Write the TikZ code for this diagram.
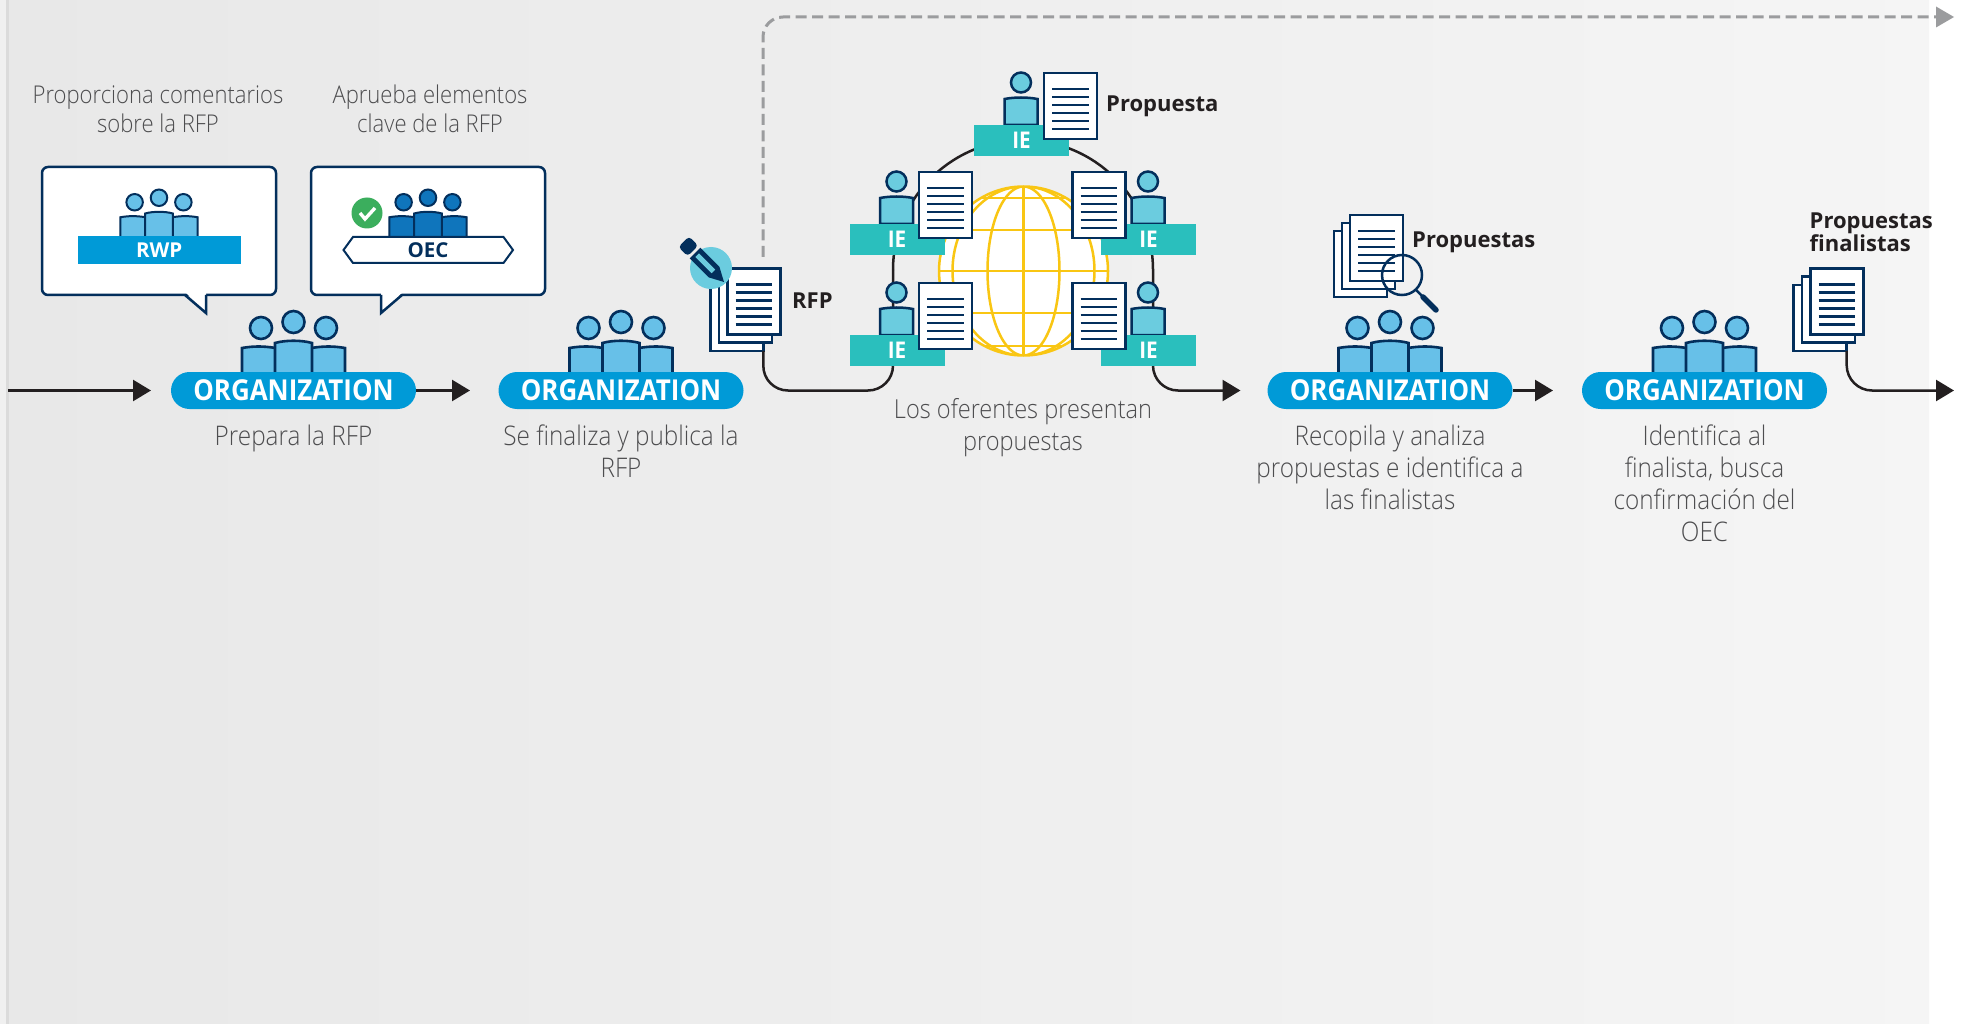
\documentclass[tikz,border=0pt]{standalone}
\usepackage{fontspec}
\usetikzlibrary{arrows.meta,shapes.misc,calc}
\setmainfont{Noto Sans}
\IfFontExistsTF{Open Sans Light}{\newfontfamily\lightf[FakeStretch=0.9]{Open Sans Light}}{%
\IfFontExistsTF{Fira Sans Light}{\newfontfamily\lightf[FakeStretch=0.96]{Fira Sans Light}}{%
\IfFontExistsTF{Lato Light}{\newfontfamily\lightf{Lato Light}}{\newfontfamily\lightf[FakeStretch=0.9]{Noto Sans}}}}
\IfFontExistsTF{Open Sans Bold}{\newfontfamily\bfx[FakeStretch=0.9]{Open Sans Bold}\newfontfamily\bfw{Open Sans Bold}}{%
\IfFontExistsTF{Fira Sans Bold}{\newfontfamily\bfx{Fira Sans Bold}\newfontfamily\bfw{Fira Sans Bold}}{%
\IfFontExistsTF{Lato Bold}{\newfontfamily\bfx{Lato Bold}\newfontfamily\bfw{Lato Bold}}{\newfontfamily\bfx[FakeStretch=0.92,FakeBold=1.6]{Noto Sans}\newfontfamily\bfw[FakeBold=1.6]{Noto Sans}}}}
\definecolor{navy}{HTML}{032F5C}
\definecolor{bluep}{HTML}{009AD7}
\definecolor{lightb}{HTML}{67C0E8}
\definecolor{darkb}{HTML}{0F75BC}
\definecolor{cyanb}{HTML}{6BCCDF}
\definecolor{teal}{HTML}{2ABFBD}
\definecolor{inkd}{HTML}{231F20}
\definecolor{greytxt}{HTML}{4D4D4F}
\definecolor{dashg}{HTML}{9B9C9E}
\definecolor{globey}{HTML}{F9C613}
\definecolor{checkg}{HTML}{3BAE5D}
\tikzset{
  arr/.style={draw=inkd,line width=2.5pt,-{Triangle[length=18pt,width=21pt,fill=inkd]}},
  dasharr/.style={draw=dashg,line width=3pt,dash pattern=on 11pt off 5.5pt,rounded corners=20pt},
  pillbox/.style={rounded rectangle,fill=bluep,text=white,minimum width=245pt,minimum height=37pt,inner sep=0pt,font=\bfx\fontsize{28.8}{30}\selectfont},
  descr/.style={text=greytxt,align=center,inner sep=0pt,font=\lightf\fontsize{27}{32}\selectfont},
  descrtop/.style={text=greytxt,align=center,inner sep=0pt,font=\lightf\fontsize{24.5}{29}\selectfont},
  lab/.style={text=inkd,align=left,inner sep=0pt,font=\bfw\fontsize{22}{23.5}\selectfont},
  bubblebox/.style={draw=navy,fill=white,line width=2.5pt,rounded corners=6pt,minimum width=234pt,minimum height=128pt,inner sep=0pt},
  page/.style={draw=navy,fill=white,line width=2.5pt,minimum width=53pt,minimum height=66pt,inner sep=0pt,outer sep=0pt,anchor=north west},
  iebar/.style={fill=teal,text=white,minimum width=95pt,minimum height=31pt,inner sep=0pt,font=\bfx\fontsize{23}{24}\selectfont},
}
\newcommand{\crowd}[5]{%
 \begin{scope}[shift={(#1,#2)},scale=#3,draw=navy,fill=#4,line width=#5]
  \filldraw (-51.5,0) -- (-51.5,-25) .. controls (-40,-27) and (-30,-27) .. (-18,-25) -- (-18,0);
  \filldraw (51.5,0) -- (51.5,-25) .. controls (40,-27) and (30,-27) .. (18,-25) -- (18,0);
  \filldraw (-18.5,0) -- (-18.5,-30) .. controls (-8,-33) and (8,-33) .. (18.5,-30) -- (18.5,0);
  \filldraw (-32.5,-45) circle[radius=11];
  \filldraw (32.5,-45) circle[radius=11];
  \filldraw (0,-51) circle[radius=11];
 \end{scope}}
\newcommand{\pagelines}[2]{%
 \foreach \k in {0,...,5}{\draw[navy,line width=2.4pt] (#1+8,#2+16+8*\k) -- (#1+44.5,#2+16+8*\k);}}
\newcommand{\stack}[3]{%
 \node[page] (#3b) at (#1-16.5,#2+17) {};
 \node[page] (#3m) at (#1-8,#2+8.5) {};
 \node[page] (#3f) at (#1+0.5,#2+0.5) {};
 \pagelines{#1+0.5}{#2+0.5}}
\newcommand{\bidder}[4]{% name, head x, bar top y, doc x
 \draw[navy,line width=2.5pt,fill=cyanb] (#2-16.5,#3) -- (#2-16.5,#3-26) .. controls (#2-6,#3-28) and (#2+6,#3-28) .. (#2+16.5,#3-26) -- (#2+16.5,#3) -- cycle;
 \filldraw[draw=navy,fill=cyanb,line width=2.5pt] (#2,#3-42.5) circle[radius=10];
 \node[iebar] (#1) at (#2+0.5,#3+15.5) {IE};
 \node[page] (#1d) at (#4,#3-52) {};
 \pagelines{#4}{#3-52}}
\begin{document}
\begin{tikzpicture}[x=1pt,y=-1pt]
\useasboundingbox (0,0) rectangle (1965,1024);
\fill[white] (0,0) rectangle (1965,1024);
\fill[black!6] (0,0) rectangle (6,1024);
\fill[black!14] (6,0) rectangle (9,1024);
\shade[left color=black!9,right color=black!4] (9,0) rectangle (1929,1024);

% dashed branch
\coordinate (dstart) at (763,257);
\coordinate (dend) at (1954,17);
\draw[dasharr] (dstart) -- (763,17) -- (1936,17);
\fill[dashg] (1936,6.5) -- (dend) -- (1936,27.5) -- cycle;

% ring and connectors
\coordinate (ringL) at (893,270);
\coordinate (ringR) at (1153,270);
\draw[inkd,line width=2.5pt] (ringR) arc[start angle=0,delta angle=-180,radius=130];

% speech bubbles
\node[bubblebox] (b1) at (159,231) {};
\fill[white] (186,293) -- (206,313) -- (206,293) -- cycle;
\draw[navy,line width=2.5pt] (185,295) -- (206,313) -- (206,295);
\node[bubblebox] (b2) at (428,231) {};
\fill[white] (381,293) -- (381,313) -- (402,293) -- cycle;
\draw[navy,line width=2.5pt] (402,295) -- (381,313) -- (381,295);

\crowd{159}{236}{0.75}{lightb}{2pt}
\node[fill=bluep,text=white,minimum width=163.5pt,minimum height=28pt,inner sep=0pt,font=\bfw\fontsize{20.5}{22}\selectfont] (rwp) at (159.25,250.5) {RWP};
\crowd{428}{236}{0.75}{darkb}{2pt}
\draw[navy,line width=2pt,fill=white] (353,237) -- (503.5,237) -- (513,250) -- (503.5,263) -- (353,263) -- (343.5,250) -- cycle;
\node[text=navy,inner sep=0pt,font=\bfw\fontsize{20.5}{22}\selectfont] (oec) at (428,250.5) {OEC};
\fill[checkg] (367,213) circle[radius=15.5];
\draw[white,line width=3.4pt] (360,213) -- (365,219) -- (375,208);

% organizations
\crowd{293.5}{373}{1}{lightb}{2.6pt}
\crowd{621}{373}{1}{lightb}{2.6pt}
\crowd{1390}{373}{1}{lightb}{2.6pt}
\crowd{1704.5}{373}{1}{lightb}{2.6pt}
\node[pillbox] (org1) at (293.5,390.5) {ORGANIZATION};
\node[pillbox] (org2) at (621,390.5) {ORGANIZATION};
\node[pillbox] (org3) at (1390,390.5) {ORGANIZATION};
\node[pillbox] (org4) at (1704.5,390.5) {ORGANIZATION};

% arrows
\coordinate (a0s) at (8,390.5);
\coordinate (a0e) at (151,390.5);
\coordinate (a1e) at (470,390.5);
\coordinate (a3e) at (1553,390.5);
\coordinate (a4e) at (1954,390.5);
\coordinate (a5e) at (1240.5,390.5);
\draw[arr] (a0s) -- (a0e);
\draw[arr] (org1.east) -- (a1e);
\draw[arr] (org3.east) -- (a3e);

% globe
\begin{scope}
 \fill[white] (1023.5,271) circle[radius=84.5];
 \clip (1023.5,271) circle[radius=84.5];
 \foreach \yy in {198,230,271,313,346}{\draw[globey,line width=2.5pt] (930,\yy) -- (1115,\yy);}
 \draw[globey,line width=2.5pt] (1023.5,180) -- (1023.5,360);
 \draw[globey,line width=2.5pt] (1023.5,271) ellipse[x radius=36,y radius=84.5];
 \draw[globey,line width=2.5pt] (1023.5,271) ellipse[x radius=71,y radius=84.5];
\end{scope}
\draw[globey,line width=2.5pt] (1023.5,271) circle[radius=84.5];

% RFP stack and pencil
\stack{727}{268}{rfp}
\fill[cyanb] (711,268) circle[radius=21];
\begin{scope}[shift={(724,282)},rotate=135]
 \fill[navy] (0,0) -- (14,7.5) -- (41,7.5) -- (41,-7.5) -- (14,-7.5) -- cycle;
 \fill[cyanb] (15,2.5) rectangle (38,-2.5);
 \fill[navy,rounded corners=3.5pt] (44,7.5) -- (57,7.5) -- (57,-7.5) -- (44,-7.5) -- cycle;
\end{scope}
\node[lab,anchor=west] (lrfp) at (792,301) {RFP};

% solid flows through the ring
\draw[inkd,line width=2.5pt,rounded corners=25pt] (rfpb.south east) -- (763,390.5) -- (893,390.5) -- (ringL);
\draw[arr,rounded corners=25pt] (ringR) -- (1153,390.5) -- (a5e);

% bidders
\bidder{ie1}{1021}{125}{1044}
\bidder{ie2}{896.5}{224}{919}
\bidder{ie3}{1148}{224}{1072.5}
\bidder{ie4}{896.5}{335}{919}
\bidder{ie5}{1148}{335}{1072.5}
\node[lab,anchor=west] (lprop) at (1106,106) {Propuesta};

% proposals stack + magnifier
\node[page] (pb) at (1334,231) {};
\node[page] (pm) at (1342,223) {};
\node[page] (pf) at (1350,215) {};
\pagelines{1350}{215}
\draw[navy,line width=2.5pt] (1402,275) circle[radius=20];
\draw[navy,line width=2.5pt] (1416,290) -- (1423,297);
\draw[navy,line width=5.5pt,line cap=round] (1423,297) -- (1436,310);
\node[lab,anchor=west] (lprops) at (1412,242.5) {Propuestas};

% finalists
\stack{1810}{268}{fin}
\node[lab,anchor=west] (lfin) at (1809.5,232.5) {Propuestas\\finalistas};
\draw[arr,rounded corners=25pt] (finb.south east) -- (1847,390.5) -- (a4e);

% texts
\node[descrtop] (t1) at (158,109) {Proporciona comentarios\\sobre la RFP};
\node[descrtop] (t2) at (430,108.5) {Aprueba elementos\\clave de la RFP};
\node[descr] (t3) at (293.5,438) {Prepara la RFP};
\node[descr] (t4) at (621,451) {Se finaliza y publica la\\RFP};
\node[descr,font=\lightf\fontsize{26.2}{32}\selectfont] (t5) at (1023,427.5) {Los oferentes presentan\\propuestas};
\node[descr] (t6) at (1390,467) {Recopila y analiza\\propuestas e identifica a\\las finalistas};
\node[descr] (t7) at (1704.5,483) {Identifica al\\finalista, busca\\confirmación del\\OEC};
\end{tikzpicture}
\end{document}
